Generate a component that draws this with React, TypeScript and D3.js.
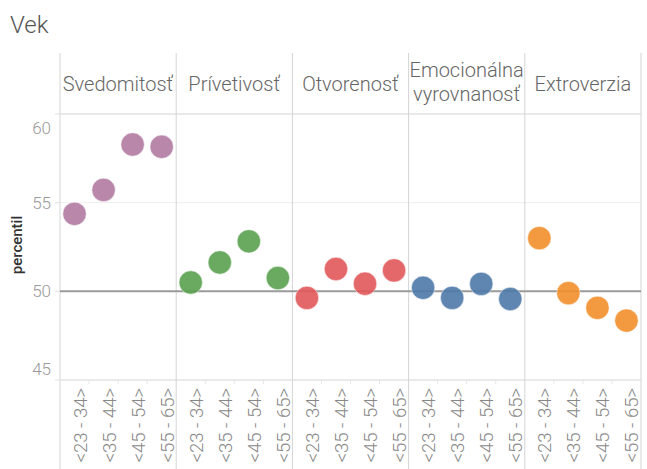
import React from "react";
import * as d3 from "d3";

const traits = ["Svedomitosť", "Prívetivosť", "Otvorenosť", "Emocionálna vyrovnanosť", "Extroverzia"];
const traitLines = [["Svedomitosť"], ["Prívetivosť"], ["Otvorenosť"], ["Emocionálna", "vyrovnanosť"], ["Extroverzia"]];
const ageGroups = ["<23 - 34>", "<35 - 44>", "<45 - 54>", "<55 - 65>"];
const colors = ["#b07aa1", "#59a14f", "#e15759", "#4e79a7", "#f28e2b"];
const svedomitost = [54.37, 55.72, 58.28, 58.15];
const privetivost = [50.5, 51.63, 52.82, 50.75];
const otvorenost = [49.63, 51.26, 50.43, 51.18];
const emocionalna = [50.2, 49.63, 50.42, 49.57];
const extroverzia = [53.0, 49.9, 49.07, 48.35];
const seriesValues = [svedomitost, privetivost, otvorenost, emocionalna, extroverzia];
const yTicks = [45, 50, 55, 60];

const W = 647, H = 469;
const FONT = "Roboto, 'Noto Sans', sans-serif";

export default function App() {
  const left = 60, right = 641;
  const headerTop = 53, plotTop = 114, plotBottom = 380;
  const panelX = d3.scaleBand<string>().domain(traits).range([left, right]).padding(0);
  const inner = d3.scaleBand<string>().domain(ageGroups).range([0, panelX.bandwidth()]).padding(0);
  const y = d3.scaleLinear().domain([45, 60]).range([plotBottom, plotTop]);
  const bounds = [left, ...traits.map((t) => (panelX(t) as number) + panelX.bandwidth())];

  return (
    <svg width={W} height={H} style={{ position: "absolute", left: 0, top: 0, background: "#fff" }} fontFamily={FONT}>
      <text x={10} y={33} fontSize={24} fontWeight={300} fill="#555">Vek</text>
      {/* gridlines */}
      <line x1={left} x2={right} y1={y(55)} y2={y(55)} stroke="#efefef" strokeWidth={1} />
      <line x1={left} x2={right} y1={y(60)} y2={y(60)} stroke="#d4d4d4" strokeWidth={1} />
      <line x1={left} x2={right} y1={plotBottom} y2={plotBottom} stroke="#d4d4d4" strokeWidth={1} />
      {/* panel separators */}
      {bounds.map((bx, i) => (
        <line key={i} x1={bx} x2={bx} y1={headerTop} y2={H} stroke="#d4d4d4" strokeWidth={1} />
      ))}
      {/* minor ticks in the label area */}
      {traits.map((t) =>
        ageGroups.slice(1).map((a) => {
          const xx = (panelX(t) as number) + (inner(a) as number);
          return <line key={t + a} x1={xx} x2={xx} y1={plotBottom} y2={plotBottom + 4} stroke="#e6e6e6" />;
        })
      )}
      {/* y ticks */}
      {yTicks.map((v) => {
        let ty = y(v) + 6;
        if (v === 60) ty = y(v) + 20;
        if (v === 45) ty = y(v) - 5;
        return (
          <g key={v}>
            <line x1={left - 5} x2={left} y1={y(v)} y2={y(v)} stroke="#e0e0e0" />
            <text x={51} y={ty} fontSize={17} fontWeight={300} fill="#999" textAnchor="end">{v}</text>
          </g>
        );
      })}
      <text transform={`translate(22,${245}) rotate(-90)`} fontSize={15} fontWeight={500} fill="#333" textAnchor="middle">percentil</text>
      {/* reference line */}
      <line x1={left} x2={right} y1={y(50)} y2={y(50)} stroke="#9a9a9a" strokeWidth={2} />
      {/* headers */}
      {traits.map((t, i) => {
        const lines = traitLines[i];
        const cx = (panelX(t) as number) + panelX.bandwidth() / 2;
        const by = lines.length === 1 ? 91 : 77;
        return (
          <text key={t} x={cx} y={by} fontSize={20} fontWeight={300} fill="#666" textAnchor="middle">
            {lines.map((l, j) => (
              <tspan key={j} x={cx} dy={j === 0 ? 0 : 24}>{l}</tspan>
            ))}
          </text>
        );
      })}
      {/* points */}
      {traits.map((t, i) =>
        seriesValues[i].map((v, j) => {
          const cx = (panelX(t) as number) + (inner(ageGroups[j]) as number) + inner.bandwidth() / 2;
          return <circle key={t + j} cx={cx} cy={y(v)} r={11.7} fill={colors[i]} fillOpacity={0.9} stroke="#fff" strokeOpacity={0.5} strokeWidth={1} />;
        })
      )}
      {/* x labels */}
      {traits.map((t) =>
        ageGroups.map((a) => {
          const cx = (panelX(t) as number) + (inner(a) as number) + inner.bandwidth() / 2;
          return (
            <text key={t + a} transform={`translate(${cx + 12},${plotBottom + 8}) rotate(-90)`} fontSize={18.5} fontWeight={300} fill="#888" textAnchor="end">{a}</text>
          );
        })
      )}
    </svg>
  );
}
